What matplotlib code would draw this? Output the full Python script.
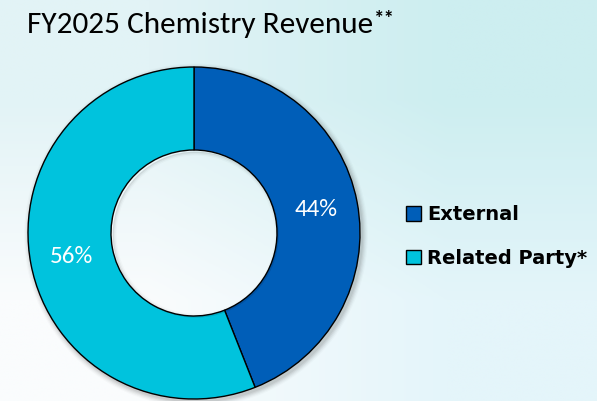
import matplotlib
matplotlib.use("Agg")
import matplotlib.pyplot as plt
import numpy as np
from matplotlib import font_manager
from matplotlib.patches import Wedge

categories = ["External", "Related Party*"]
values = [44, 56]
colors = ["#005EB8", "#00C3DD"]
title = "FY2025 Chemistry Revenue"

names = {f.name for f in font_manager.fontManager.ttflist}
def pick(*cands):
    for c in cands:
        if c in names:
            return c
    return "DejaVu Sans"
title_font = pick("Carlito", "Lato", "Open Sans")
pct_font = pick("Carlito", "Lato", "Open Sans")
leg_font = pick("DejaVu Sans")

W, H = 597, 401
fig = plt.figure(figsize=(W / 100, H / 100), dpi=100)

# background gradient
bg = fig.add_axes([0, 0, 1, 1])
grad = np.array([[[226, 243, 246], [205, 238, 240]],
                 [[250, 252, 253], [228, 245, 250]]]) / 255.0
bg.imshow(grad, extent=[0, 1, 0, 1], aspect="auto", interpolation="bilinear",
          origin="upper")
bg.set_axis_off()

# donut
cx, cy, R = 194, 233, 166
ax = fig.add_axes([(cx - R * 1.05) / W, (H - cy - R * 1.05) / H, 2.1 * R / W, 2.1 * R / H])

# soft shadow (outer ring only)
for i, a in enumerate([0.06, 0.05, 0.04, 0.03, 0.02]):
    r = 1.0 + 0.007 * (i + 1)
    ax.add_patch(Wedge((0.012, -0.014), r, 0, 360, width=r - 0.9, color="black",
                       alpha=a, lw=0, zorder=0))
# inner hole shadow (subtle)
for i, a in enumerate([0.06, 0.04, 0.02]):
    ax.add_patch(Wedge((0.01, -0.01), 0.5, 0, 360, width=0.008 * (i + 1),
                       color="black", alpha=a, lw=0, zorder=3))

wedges, texts, autotexts = ax.pie(
    values, colors=colors, startangle=90, counterclock=False,
    radius=1.0, autopct="%d%%", pctdistance=0.75,
    wedgeprops=dict(width=0.5, edgecolor="black", linewidth=1.0),
    textprops=dict(color="white", fontsize=18, family=pct_font))
ax.set_xlim(-1.05, 1.05)
ax.set_ylim(-1.05, 1.05)
ax.set_aspect("equal")
ax.set_axis_off()

# title
t = fig.text(27 / W, 1 - 33 / H, title, fontsize=22.5, family=title_font,
             color="black", va="baseline", ha="left")
fig.canvas.draw()
bb = t.get_window_extent()
fig.text(bb.x1 / W + 1 / W, 1 - 24 / H, "**", fontsize=15, fontweight="bold",
         family=title_font, va="baseline", ha="left")

# legend
leg = ax.legend(wedges, categories, loc="center left",
                bbox_to_anchor=(406 / W, 1 - 236.5 / H),
                bbox_transform=fig.transFigure, frameon=False,
                prop=dict(family=leg_font, weight="bold", size=14),
                handlelength=0.78, handleheight=0.78, handletextpad=0.3,
                labelspacing=1.25, borderpad=0, borderaxespad=0)

fig.savefig("out.png", dpi=100)
